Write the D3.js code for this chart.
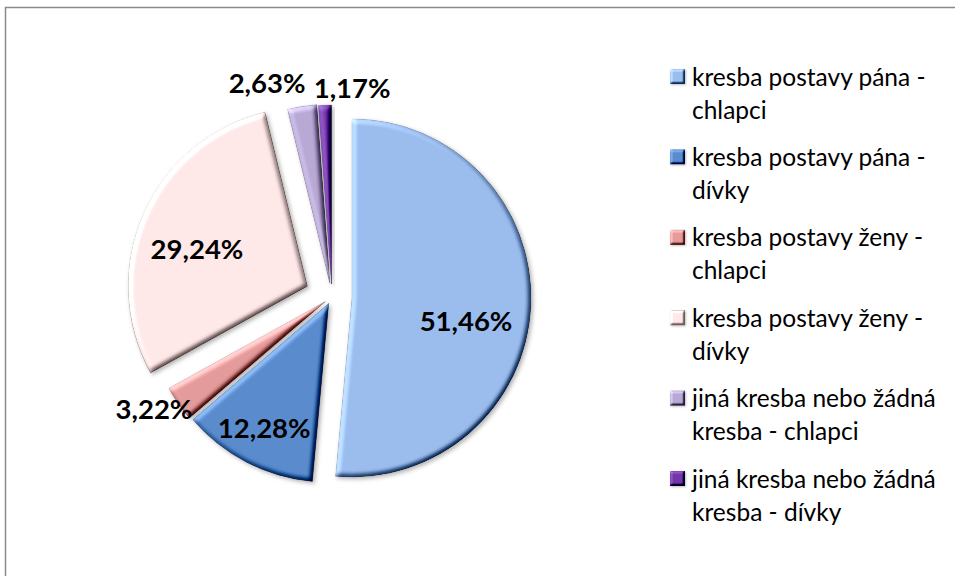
<!DOCTYPE html>
<html>
<head>
<meta charset="utf-8">
<script src="https://cdn.jsdelivr.net/npm/d3@7"></script>
<style>
  html, body { margin: 0; padding: 0; background: #fff; }
  svg { display: block; }
</style>
</head>
<body>
<svg id="chart" width="955" height="576"></svg>
<script>
// Categories and their shares (percent)
const categories = [
  "kresba postavy pána - chlapci",
  "kresba postavy pána - dívky",
  "kresba postavy ženy - chlapci",
  "kresba postavy ženy - dívky",
  "jiná kresba nebo žádná kresba - chlapci",
  "jiná kresba nebo žádná kresba - dívky"
];
const values = [51.46, 12.28, 3.22, 29.24, 2.63, 1.17];
const colors = ["#9BBDEE", "#5A8BCD", "#E39B9B", "#FFE8E8", "#B7A8D4", "#7136A8"];

// Slice explosion (px) and label placement (radius factor, angular shift in degrees)
const explode = [20, 7, 8, 27, 14, 13];
const labelRadius = [0.65, 0.785, 1.13, 0.65, 1.17, 1.10];
const labelShift = [8.8, 0, 2.7, -5.1, -8.5, 8.1];

const svg = d3.select("#chart");
const W = 955, H = 576;
const cx = 332, cy = 297, R = 179;

// Outer frame of the chart area
svg.append("rect")
  .attr("x", 5.5).attr("y", 7.5)
  .attr("width", W + 20).attr("height", H + 20)
  .attr("fill", "#fff")
  .attr("stroke", "#8a8a8a").attr("stroke-width", 1.5);

// Bevel + shadow filters
const defs = svg.append("defs");
function bevelFilter(id, blur, scale, shadowBlur, shadowOff, shadowOpacity) {
  const f = defs.append("filter").attr("id", id)
    .attr("x", "-20%").attr("y", "-20%").attr("width", "140%").attr("height", "140%")
    .attr("color-interpolation-filters", "sRGB");
  f.append("feGaussianBlur").attr("in", "SourceAlpha").attr("stdDeviation", blur).attr("result", "b");
  f.append("feDiffuseLighting").attr("in", "b").attr("surfaceScale", scale)
    .attr("diffuseConstant", 1).attr("lighting-color", "#fff").attr("result", "light")
    .append("feDistantLight").attr("azimuth", 225).attr("elevation", 45);
  f.append("feComposite").attr("in", "SourceGraphic").attr("in2", "light")
    .attr("operator", "arithmetic").attr("k1", 0).attr("k2", 1).attr("k3", 0.8).attr("k4", -0.566)
    .attr("result", "lit");
  f.append("feComposite").attr("in", "lit").attr("in2", "SourceAlpha").attr("operator", "in").attr("result", "shape");
  f.append("feGaussianBlur").attr("in", "SourceAlpha").attr("stdDeviation", shadowBlur).attr("result", "sb");
  f.append("feOffset").attr("in", "sb").attr("dx", shadowOff).attr("dy", shadowOff).attr("result", "so");
  f.append("feFlood").attr("flood-color", "#000").attr("flood-opacity", shadowOpacity).attr("result", "sc");
  f.append("feComposite").attr("in", "sc").attr("in2", "so").attr("operator", "in").attr("result", "shadow");
  const m = f.append("feMerge");
  m.append("feMergeNode").attr("in", "shadow");
  m.append("feMergeNode").attr("in", "shape");
}
bevelFilter("bevel", 2.4, 3.5, 2.2, 2, 0.3);
bevelFilter("bevelSmall", 1.3, 3, 0.8, 1, 0.25);

// Pie layout, clockwise from 12 o'clock, in data order
const pie = d3.pie().sort(null).value(d => d).startAngle(0).endAngle(2 * Math.PI);
const arcs = pie(values);
const arc = d3.arc().innerRadius(0).outerRadius(R);

const g = svg.append("g").attr("transform", `translate(${cx},${cy})`);

function offsetOf(d, i) {
  const mid = (d.startAngle + d.endAngle) / 2;
  return [Math.sin(mid) * explode[i], -Math.cos(mid) * explode[i]];
}

g.selectAll("path.slice")
  .data(arcs)
  .join("path")
  .attr("class", "slice")
  .attr("transform", (d, i) => { const o = offsetOf(d, i); return `translate(${o[0]},${o[1]})`; })
  .attr("d", arc)
  .attr("fill", (d, i) => colors[i])
  .attr("stroke", (d, i) => d3.color(colors[i]).darker(0.35))
  .attr("stroke-width", 0.5)
  .attr("filter", "url(#bevel)");

// Data labels
const locale = d3.formatLocale({ decimal: ",", thousands: " ", grouping: [3], currency: ["", ""] });
const fmt = locale.format(".2f");

g.selectAll("text.lbl")
  .data(arcs)
  .join("text")
  .attr("class", "lbl")
  .attr("transform", (d, i) => {
    const o = offsetOf(d, i);
    const a = (d.startAngle + d.endAngle) / 2 + labelShift[i] * Math.PI / 180;
    const r = labelRadius[i] * R;
    return `translate(${o[0] + Math.sin(a) * r},${o[1] - Math.cos(a) * r})`;
  })
  .attr("text-anchor", "middle")
  .attr("dy", "0.36em")
  .attr("font-family", "Lato, 'Open Sans', sans-serif")
  .attr("font-weight", 700)
  .attr("font-size", 27.5)
  .attr("fill", "#000")
  .text(d => fmt(d.data) + "%");

// Legend
const legendX = 670, legendY0 = 77, legendStep = 80.4, lineH = 33, wrapW = 252;
const leg = svg.append("g");
categories.forEach((name, i) => {
  const y = legendY0 + i * legendStep;
  leg.append("rect")
    .attr("x", legendX).attr("y", y - 8)
    .attr("width", 15).attr("height", 15)
    .attr("fill", colors[i])
    .attr("filter", "url(#bevelSmall)");
  const t = leg.append("text")
    .attr("x", legendX + 22).attr("y", y)
    .attr("font-family", "Lato, 'Open Sans', sans-serif")
    .attr("font-size", 24.5)
    .attr("fill", "#000");
  // simple word wrap
  const words = name.split(" ");
  let line = [];
  let tspan = t.append("tspan").attr("x", legendX + 22).attr("dy", "0.35em");
  words.forEach(w => {
    line.push(w);
    tspan.text(line.join(" "));
    if (tspan.node().getComputedTextLength() > wrapW && line.length > 1) {
      line.pop();
      tspan.text(line.join(" "));
      line = [w];
      tspan = t.append("tspan").attr("x", legendX + 22).attr("dy", lineH).text(w);
    }
  });
});
</script>
</body>
</html>
